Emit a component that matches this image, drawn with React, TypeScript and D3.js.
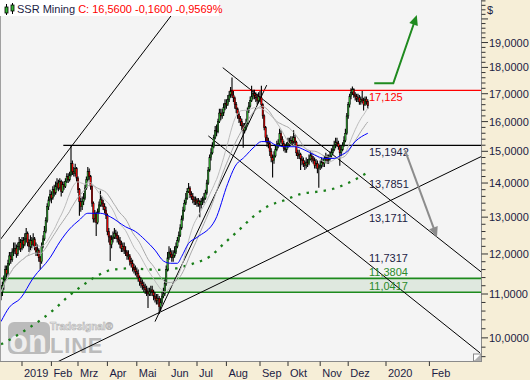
import React from 'react';
import * as d3 from 'd3';

// ---------- DATA ----------
const firstOpen = 10.95;
const closes = [
  11.05, 11.2, 11.35, 11.6, 11.5, 11.75, 11.95, 11.85, 12.05, 12.1,
  12.15, 12.0, 12.2, 12.3, 12.15, 12.35, 12.25, 12.4, 12.55, 12.3,
  12.2, 12.35, 12.25, 12.4, 12.2, 12.05, 12.1, 11.9, 11.8, 12.2,
  12.4, 12.6, 12.9, 13.3, 13.5, 13.65, 13.55, 13.8, 13.7, 13.9,
  14.0, 13.85, 14.05, 13.75, 13.95, 13.9, 14.05, 14.2, 14.1, 14.25,
  14.6, 14.35, 14.3, 14.45, 14.15, 13.8, 13.45, 13.3, 13.45, 13.55,
  13.85, 14.1, 14.35, 14.2, 13.9, 13.4, 12.95, 13.1, 12.85, 13.15,
  13.35, 13.5, 13.4, 13.3, 13.2, 13.05, 12.6, 12.45, 12.25, 12.4,
  12.45, 12.55, 12.5, 12.4, 12.35, 12.25, 12.15, 12.2, 12.1, 12.05,
  11.95, 11.95, 11.8, 11.75, 11.65, 11.6, 11.55, 11.5, 11.4, 11.3,
  11.25, 11.2, 11.15, 11.1, 11.05, 11.0, 11.05, 11.1, 11.05, 10.95,
  10.9, 10.85, 10.9, 10.7, 10.8, 10.95, 11.0, 11.25, 11.6, 11.9,
  12.05, 12.0, 11.9, 11.95, 12.05, 12.2, 12.35, 12.5, 12.7, 12.95,
  13.2, 13.4, 13.55, 13.75, 13.85, 13.65, 13.6, 13.5, 13.45, 13.5,
  13.4, 13.45, 13.35, 13.45, 13.5, 13.55, 13.7, 14.0, 14.4, 14.8,
  14.95, 15.15, 15.45, 15.7, 15.65, 16.0, 16.3, 16.2, 16.3, 16.5,
  16.65, 16.6, 16.8, 16.95, 17.1, 16.95, 16.85, 16.6, 16.45, 16.25,
  16.1, 16.0, 15.85, 15.7, 15.8, 15.95, 16.4, 16.55, 16.75, 16.9,
  17.0, 16.95, 16.85, 16.75, 16.9, 16.85, 16.6, 16.2, 15.8, 15.45,
  15.3, 15.25, 15.0, 14.8, 14.7, 14.85, 15.05, 15.2, 15.25, 15.6,
  15.4, 15.25, 15.1, 15.05, 15.2, 15.3, 15.25, 15.35, 15.3, 15.45,
  15.3, 14.95, 14.85, 14.9, 14.75, 14.7, 14.6, 14.55, 14.65, 14.6,
  14.75, 14.85, 14.75, 14.7, 14.55, 14.6, 14.45, 14.5, 14.55, 14.65,
  14.6, 14.75, 14.8, 14.7, 14.75, 14.85, 14.95, 15.05, 15.2, 15.3,
  15.25, 15.15, 14.95, 15.05, 15.2, 15.35, 15.6, 16.2, 16.6, 16.9,
  17.05, 17.15, 16.95, 16.9, 16.8, 16.85, 16.7, 16.8, 16.75, 16.6,
  16.8, 16.72, 16.56,
];
const highs = [
  11.2, 11.3, 11.45, 11.7, 11.7, 11.85, 12.05, 12.05, 12.15, 12.3,
  12.3, 12.25, 12.3, 12.45, 12.4, 12.45, 12.45, 12.55, 12.7, 12.6,
  12.4, 12.5, 12.45, 12.55, 12.45, 12.3, 12.25, 12.15, 11.95, 12.3,
  12.5, 12.75, 13.0, 13.4, 13.6, 13.8, 13.75, 13.9, 13.95, 14.05,
  14.15, 14.1, 14.15, 14.1, 14.05, 14.05, 14.15, 14.3, 14.3, 14.35,
  15.19, 14.7, 14.5, 14.6, 14.5, 14.2, 13.85, 13.55, 13.6, 13.7,
  13.95, 14.2, 14.5, 14.45, 14.25, 13.95, 13.45, 13.2, 13.15, 13.25,
  13.45, 13.77, 13.6, 13.5, 13.4, 13.3, 13.1, 12.7, 12.5, 12.5,
  12.6, 12.7, 12.65, 12.6, 12.5, 12.45, 12.35, 12.3, 12.3, 12.2,
  12.1, 12.1, 12.0, 11.9, 11.85, 11.75, 11.7, 11.65, 11.6, 11.45,
  11.4, 11.35, 11.3, 11.25, 11.2, 11.15, 11.15, 11.2, 11.2, 11.1,
  11.05, 11.0, 11.0, 10.95, 10.9, 11.05, 11.15, 11.35, 11.7, 12.05,
  12.2, 12.15, 12.1, 12.1, 12.2, 12.3, 12.45, 12.6, 12.8, 13.05,
  13.3, 13.5, 13.7, 13.85, 14.0, 13.9, 13.75, 13.7, 13.6, 13.6,
  13.55, 13.55, 13.5, 13.55, 13.6, 13.7, 13.8, 14.1, 14.5, 14.9,
  15.1, 15.3, 15.55, 15.85, 15.9, 16.1, 16.45, 16.45, 16.45, 16.65,
  16.8, 16.8, 16.95, 17.1, 17.25, 17.61, 17.1, 16.9, 16.7, 16.5,
  16.35, 16.2, 16.1, 15.95, 15.95, 16.1, 16.5, 16.7, 16.9, 17.3,
  17.15, 17.15, 17.05, 17.0, 17.05, 17.1, 17.3, 16.65, 16.25, 15.85,
  15.55, 15.45, 15.35, 15.1, 14.9, 15.0, 15.2, 15.35, 15.4, 15.75,
  15.7, 15.5, 15.35, 15.25, 15.3, 15.45, 15.45, 15.5, 15.5, 15.7,
  15.55, 15.35, 15.05, 15.05, 14.95, 14.85, 14.8, 14.7, 14.8, 14.75,
  14.9, 15.0, 14.95, 14.85, 14.8, 14.75, 14.7, 14.6, 14.7, 14.8,
  14.75, 14.85, 14.95, 14.9, 14.9, 15.0, 15.1, 15.2, 15.35, 15.45,
  15.45, 15.35, 15.2, 15.2, 15.3, 15.5, 15.75, 16.3, 16.7, 17.0,
  17.2, 17.27, 17.2, 17.05, 17.0, 17.0, 16.95, 16.9, 17.1, 16.85,
  16.9, 16.9, 16.8,
];
const lows = [
  10.85, 10.95, 11.1, 11.3, 11.4, 11.45, 11.7, 11.75, 11.8, 11.95,
  12.0, 11.9, 11.95, 12.1, 12.05, 12.1, 12.15, 12.2, 12.3, 12.2,
  12.05, 12.1, 12.15, 12.2, 12.1, 11.95, 11.95, 11.8, 11.6, 11.75,
  12.15, 12.35, 12.55, 12.85, 13.2, 13.45, 13.4, 13.5, 13.6, 13.65,
  13.8, 13.75, 13.8, 13.6, 13.7, 13.8, 13.85, 14.0, 14.0, 14.05,
  14.2, 14.25, 14.2, 14.2, 14.05, 13.7, 13.04, 13.15, 13.2, 13.35,
  13.5, 13.8, 14.05, 14.1, 13.8, 13.3, 12.85, 12.85, 12.48, 12.8,
  13.1, 13.3, 13.3, 13.2, 13.1, 12.95, 12.5, 12.3, 11.82, 12.15,
  12.3, 12.4, 12.4, 12.3, 12.25, 12.15, 12.05, 12.05, 12.0, 11.95,
  11.85, 11.85, 11.7, 11.65, 11.55, 11.5, 11.45, 11.4, 11.3, 11.2,
  11.15, 11.1, 11.05, 11.0, 10.95, 10.67, 10.95, 10.95, 10.95, 10.85,
  10.8, 10.75, 10.75, 10.53, 10.6, 10.75, 10.9, 10.95, 11.2, 11.55,
  11.85, 11.9, 11.8, 11.8, 11.9, 12.0, 12.15, 12.3, 12.45, 12.65,
  12.9, 13.15, 13.35, 13.5, 13.7, 13.55, 13.5, 13.4, 13.35, 13.35,
  13.3, 13.3, 13.0, 13.25, 13.35, 13.4, 13.5, 13.65, 13.95, 14.35,
  14.7, 14.9, 15.1, 15.4, 15.5, 15.6, 15.95, 16.05, 16.1, 16.2,
  16.4, 16.45, 16.55, 16.7, 16.85, 16.85, 16.7, 16.45, 16.3, 16.1,
  15.95, 15.85, 15.7, 15.12, 15.6, 15.7, 15.9, 16.3, 16.5, 16.7,
  16.8, 16.8, 16.7, 16.6, 16.65, 16.7, 16.5, 16.1, 15.7, 15.3,
  15.15, 15.1, 14.85, 14.65, 14.17, 14.6, 14.8, 15.0, 15.1, 15.2,
  15.3, 15.15, 15.0, 14.95, 14.95, 15.1, 15.15, 15.2, 15.2, 15.25,
  15.2, 14.85, 14.75, 14.75, 14.4, 14.55, 14.5, 14.4, 14.45, 14.5,
  14.55, 14.7, 14.65, 14.6, 14.45, 14.45, 14.3, 13.86, 14.4, 14.45,
  14.5, 14.5, 14.65, 14.6, 14.6, 14.7, 14.8, 14.9, 15.0, 15.1,
  15.15, 15.05, 14.54, 14.85, 15.0, 15.15, 15.3, 15.55, 16.1, 16.5,
  16.8, 16.95, 16.85, 16.75, 16.7, 16.7, 16.6, 16.6, 16.65, 16.39,
  16.55, 16.6, 16.45,
];

// month ticks (bar index of first trading day / calendar day in the future part)
const tickBars = [15, 36, 55, 76, 97, 120, 140, 161, 185, 205, 228, 248, 275, 306];
const tickLabels = ['2019', 'Feb', 'Mrz', 'Apr', 'Mai', 'Jun', 'Jul', 'Aug', 'Sep', 'Okt', 'Nov', 'Dez', '2020', 'Feb'];
const priceTicks = [10, 11, 12, 13, 14, 15, 16, 17, 18, 19];

// long moving average (dotted green)
const maLongBars = [0, 5, 17, 28, 38, 48, 58, 69, 80, 92, 103, 114, 125, 137, 149, 160, 170, 180, 191, 202, 214, 226, 236, 248, 262];
const maLongValues = [9.86, 9.94, 10.16, 10.39, 10.64, 10.94, 11.2, 11.45, 11.6, 11.63, 11.61, 11.59, 11.63, 11.75, 11.93, 12.3, 12.64, 13.01, 13.32, 13.48, 13.67, 13.74, 13.81, 14.0, 14.33];

// blue moving average
const maBlueBars = [0, 6, 14, 23, 35, 42, 49, 56, 62, 71, 78, 89, 96, 103, 110, 116, 121, 126, 129, 134, 140, 153, 162, 167, 174, 181, 186, 191, 196, 203, 210, 217, 224, 231, 238, 243, 247, 253, 262];
const maBlueValues = [10.36, 10.69, 10.9, 11.39, 11.9, 12.32, 12.67, 12.92, 13.11, 13.11, 13.01, 12.73, 12.6, 12.37, 12.1, 11.82, 11.76, 11.76, 11.93, 12.28, 12.44, 12.92, 13.99, 14.5, 14.82, 15.15, 15.32, 15.32, 15.21, 15.15, 15.15, 15.04, 14.88, 14.77, 14.77, 14.88, 14.98, 15.32, 15.6];

const smaPeriods = [20, 30];

// price levels
const levelValues = [17.125, 15.1942, 13.7851, 13.1711, 11.7317, 11.3804, 11.0417];
const levelLabels = ['17,125', '15,1942', '13,7851', '13,1711', '11,7317', '11,3804', '11,0417'];
const levelAbove = [false, false, true, false, true, true, true];

const supportZone = [11.0417, 11.3804];
const redLevel = { from: 163.4, value: 17.125 };
const blackLevel = { from: 44.5, value: 15.1942 };

// trend lines [bar1, price1, bar2, price2]
const trendLines = [
  [-0.7, 12.37, 130.1, 20.84],
  [148.1, 15.51, 342.1, 9.68],
  [158.4, 17.99, 343, 11.54],
  [40.9, 9.5, 343, 14.83],
  [110, 10.36, 189.8, 17.32],
];

// arrows [[bar, price], ...]
const greenArrow = [[266.6, 17.39], [280.2, 17.39], [297, 20.17]];
const grayArrow = [[288.6, 15.03], [311.4, 12.45]];

const titleName = 'SSR Mining';
const titleQuote = 'C: 16,5600 -0,1600 -0,9569%';

// ---------- CHART ----------
const PW = 481.5;
const PH = 361.5;
const FONT = '"Liberation Sans", Arial, sans-serif';

const x = d3.scaleLinear().domain([0, 343]).range([1, 481.2]);
const y = d3.scaleLog().domain([9.489, 20.84]).range([362, 0]);

function fmt4(v: number) {
  return v.toFixed(4).replace('.', ',');
}

function arrowHead(pts: number[][], len: number, half: number) {
  const n = pts.length;
  const [x1, y1] = [x(pts[n - 2][0]), y(pts[n - 2][1])];
  const [x2, y2] = [x(pts[n - 1][0]), y(pts[n - 1][1])];
  const dx = x2 - x1, dy = y2 - y1;
  const L = Math.hypot(dx, dy);
  const ux = dx / L, uy = dy / L;
  const bx = x2 - ux * len, by = y2 - uy * len;
  return `M${x2},${y2}L${bx - uy * half},${by + ux * half}L${bx + uy * half},${by - ux * half}Z`;
}

function shortenedPath(pts: number[][], cut: number) {
  const sp = pts.map(p => [x(p[0]), y(p[1])]);
  const n = sp.length;
  const dx = sp[n - 1][0] - sp[n - 2][0], dy = sp[n - 1][1] - sp[n - 2][1];
  const L = Math.hypot(dx, dy);
  sp[n - 1] = [sp[n - 1][0] - dx / L * cut, sp[n - 1][1] - dy / L * cut];
  return 'M' + sp.map(p => p.join(',')).join('L');
}

export default function App() {
  const bars = closes.map((c, i) => {
    const o = i === 0 ? firstOpen : closes[i - 1];
    return { i, o, c, h: Math.max(highs[i], o, c), l: Math.min(lows[i], o, c) };
  });

  const smas = smaPeriods.map(n =>
    closes.map((_, i) => d3.mean(closes.slice(Math.max(0, i - n + 1), i + 1)) as number)
  );

  const lineIdx = d3.line<number>().x((_, i) => x(i)).y(d => y(d));
  const lineSampled = d3.line<[number, number]>().x(d => x(d[0])).y(d => y(d[1])).curve(d3.curveMonotoneX);

  const minorTicks = d3.range(48, 105).map(k => k / 5);

  return (
    <svg width={530} height={380} style={{ position: 'fixed', left: 0, top: 0, fontFamily: FONT }}>
      <defs>
        <clipPath id="plotClip">
          <rect x={0} y={0} width={PW} height={PH} />
        </clipPath>
      </defs>
      <rect x={0} y={0} width={530} height={380} fill="#f6eed7" />
      <rect x={0} y={0} width={PW} height={PH} fill="#f4f4f4" />

      <g clipPath="url(#plotClip)">
        {/* support zone */}
        <rect x={0} y={y(supportZone[1])} width={PW} height={y(supportZone[0]) - y(supportZone[1])} fill="#dfe8df" />
        <line x1={0} x2={PW} y1={y(supportZone[1])} y2={y(supportZone[1])} stroke="#1d8a1d" strokeWidth={1.6} />
        <line x1={0} x2={PW} y1={y(supportZone[0])} y2={y(supportZone[0])} stroke="#1d8a1d" strokeWidth={1.6} />

        {/* logo */}
        <g opacity={0.75}>
          <rect x={8} y={322} width={42} height={32} rx={6} fill="#a9a9a9" />
          <text x={9} y={352} fontSize={31} fontWeight="bold" fill="#ececec" fontFamily={FONT}>on</text>
          <text x={50} y={353} fontSize={22} fontWeight="bold" fill="#a9a9a9" fontFamily={FONT} letterSpacing={0.8}>LINE</text>
          <text x={50} y={330} fontSize={10} fontWeight="bold" fill="#e6e6e6" stroke="#a0a0a0" strokeWidth={0.6} fontFamily={FONT}>Tradesignal®</text>
        </g>

        {/* trend lines */}
        {trendLines.map((t, k) => (
          <line key={k} x1={x(t[0])} y1={y(t[1])} x2={x(t[2])} y2={y(t[3])} stroke="#000" strokeWidth={1} />
        ))}
        <line x1={x(blackLevel.from)} x2={PW} y1={y(blackLevel.value)} y2={y(blackLevel.value)} stroke="#000" strokeWidth={1.3} />
        <line x1={x(redLevel.from)} x2={PW} y1={y(redLevel.value)} y2={y(redLevel.value)} stroke="#ff0000" strokeWidth={1.3} />

        {/* long MA dotted */}
        <path d={lineSampled(maLongValues.map((v, k) => [maLongBars[k], v] as [number, number])) || ''}
          fill="none" stroke="#1a7f1a" strokeWidth={2.3} strokeDasharray="2.4 6.2" />

        {/* candles */}
        {bars.map(b => {
          const cx = x(b.i);
          const up = b.c >= b.o;
          const top = y(Math.max(b.o, b.c));
          const bot = y(Math.min(b.o, b.c));
          return (
            <g key={b.i}>
              <line x1={cx} x2={cx} y1={y(b.h)} y2={y(b.l)} stroke="#000" strokeWidth={1.1} />
              <rect x={cx - 0.7} y={top} width={1.4} height={Math.max(0.8, bot - top)}
                fill={up ? '#36b836' : '#ff0000'} stroke="#000" strokeWidth={0.5} />
            </g>
          );
        })}

        {/* moving averages */}
        <path d={lineIdx(smas[1]) || ''} fill="none" stroke="#a8a8a8" strokeWidth={1} />
        <path d={lineIdx(smas[0]) || ''} fill="none" stroke="#bcbcbc" strokeWidth={1} />
        <path d={lineSampled(maBlueValues.map((v, k) => [maBlueBars[k], v] as [number, number])) || ''}
          fill="none" stroke="#0000ff" strokeWidth={1} />

        {/* level labels */}
        {levelValues.map((v, k) => (
          <text key={k} x={369} y={levelAbove[k] ? y(v) - 2 : y(v) + 11} fontSize={11}
            fill={k === 0 ? '#ff0000' : k >= 5 ? '#2a8a2a' : '#1c1c44'}>{levelLabels[k]}</text>
        ))}

        {/* arrows */}
        <path d={shortenedPath(greenArrow, 6)} fill="none" stroke="#1f8a1f" strokeWidth={2} strokeLinejoin="miter" />
        <path d={arrowHead(greenArrow, 10, 4.5)} fill="#1f8a1f" />
        <path d={shortenedPath(grayArrow, 6)} fill="none" stroke="#8c8c8c" strokeWidth={2} />
        <path d={arrowHead(grayArrow, 10, 4.5)} fill="#8c8c8c" />

        {/* resize box */}
        <rect x={473.5} y={354} width={7} height={7} fill="#ffffff" stroke="#8a8a8a" strokeWidth={1} />
        <path d="M474,361 L481,354 L481,361 Z" fill="#b0b0b0" />
      </g>

      {/* borders */}
      <line x1={0.5} x2={0.5} y1={0} y2={PH} stroke="#a0a0a0" />
      <line x1={PW} x2={PW} y1={0} y2={PH + 0.5} stroke="#8a8a8a" />
      <line x1={0} x2={PW} y1={PH} y2={PH} stroke="#8a8a8a" />

      {/* title */}
      <rect x={0} y={0} width={219} height={16} fill="#ffffff" />
      <g>
        <line x1={6.5} x2={6.5} y1={4} y2={15} stroke="#000" />
        <rect x={5} y={7} width={3} height={6} fill="#36b836" stroke="#000" strokeWidth={0.8} />
        <line x1={12.5} x2={12.5} y1={3} y2={14} stroke="#000" />
        <rect x={11} y={5} width={3} height={6} fill="#36b836" stroke="#000" strokeWidth={0.8} />
      </g>
      <text x={17} y={13} fontSize={11}>
        <tspan fill="#1c1c44">{titleName} </tspan>
        <tspan fill="#ff0000">{titleQuote}</tspan>
      </text>

      {/* y axis */}
      {minorTicks.map(v => {
        const major = Math.abs(v - Math.round(v)) < 1e-6;
        return <line key={v} x1={PW} x2={major ? 488 : 485.5} y1={y(v)} y2={y(v)} stroke="#333" strokeWidth={1} />;
      })}
      {priceTicks.map(v => (
        <text key={v} x={489} y={y(v) + 4} fontSize={11} fill="#1c1c44">{fmt4(v)}</text>
      ))}
      <text x={487} y={14} fontSize={11} fill="#1c1c44">$</text>

      {/* x axis */}
      {tickBars.map((b, k) => (
        <g key={k}>
          <line x1={x(b)} x2={x(b)} y1={PH} y2={PH + 4.5} stroke="#333" />
          <text x={x(b) + 2} y={377} fontSize={11} fill="#1c1c44">{tickLabels[k]}</text>
        </g>
      ))}
    </svg>
  );
}
